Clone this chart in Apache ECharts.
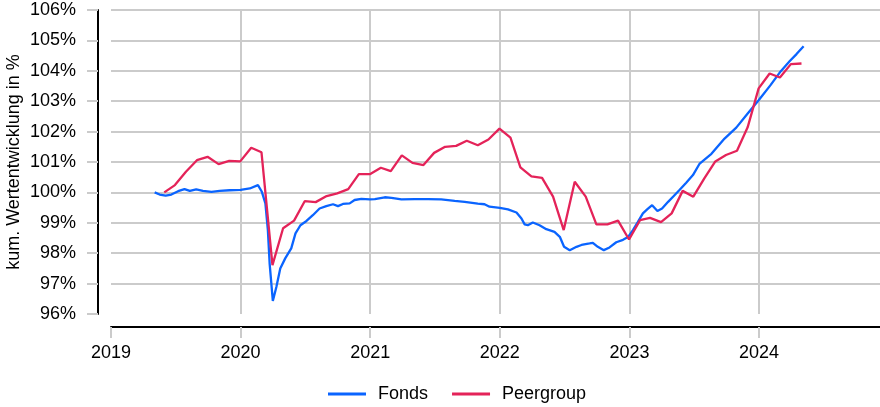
<!DOCTYPE html>
<html><head><meta charset="utf-8">
<script src="https://cdn.jsdelivr.net/npm/echarts@6/dist/echarts.min.js"></script>
<style>html,body{margin:0;padding:0;background:#fff}#c{width:880px;height:407px}</style>
</head><body><div id="c"></div>
<script>
// ---- data ----
const seriesNames = ['Fonds', 'Peergroup'];
const yAxisTitle = 'kum. Wertentwicklung in %';

const peerDates = [
  '2019-05-31','2019-06-30','2019-07-31','2019-08-31','2019-09-30','2019-10-31','2019-11-30','2019-12-31',
  '2020-01-31','2020-02-29','2020-03-31','2020-04-30','2020-05-31','2020-06-30','2020-07-31','2020-08-31','2020-09-30','2020-10-31','2020-11-30','2020-12-31',
  '2021-01-31','2021-02-28','2021-03-31','2021-04-30','2021-05-31','2021-06-30','2021-07-31','2021-08-31','2021-09-30','2021-10-31','2021-11-30','2021-12-31',
  '2022-01-31','2022-02-28','2022-03-31','2022-04-30','2022-05-31','2022-06-30','2022-07-31','2022-08-31','2022-09-30','2022-10-31','2022-11-30','2022-12-31',
  '2023-01-31','2023-02-28','2023-03-31','2023-04-30','2023-05-31','2023-06-30','2023-07-31','2023-08-31','2023-09-30','2023-10-31','2023-11-30','2023-12-31',
  '2024-01-31','2024-02-29','2024-03-31','2024-04-30'
];
const peerValues = [
  100.00,100.24,100.68,101.06,101.17,100.93,101.04,101.02,
  101.47,101.32,97.61,98.82,99.07,99.71,99.68,99.88,99.97,100.11,100.60,100.60,
  100.81,100.70,101.22,100.97,100.90,101.30,101.50,101.53,101.70,101.55,101.74,102.10,
  101.80,100.82,100.53,100.48,99.86,98.76,100.35,99.86,98.95,98.95,99.07,98.45,
  99.09,99.16,99.02,99.31,100.05,99.86,100.46,101.02,101.23,101.37,102.14,103.42,
  103.91,103.78,104.22,104.24
];

const fondsDates = [
  '2019-05-04','2019-05-18','2019-06-04','2019-06-20','2019-07-09','2019-07-27','2019-08-11','2019-08-29','2019-09-17','2019-10-11','2019-11-03','2019-12-01',
  '2020-01-01','2020-01-27','2020-02-19','2020-03-01','2020-03-11','2020-03-18','2020-03-23','2020-04-01','2020-04-11','2020-04-22','2020-05-06','2020-05-23',
  '2020-06-04','2020-06-18','2020-07-05','2020-07-23','2020-08-11','2020-08-30','2020-09-18','2020-10-02','2020-10-16','2020-11-04','2020-11-18','2020-12-07','2020-12-31',
  '2021-01-14','2021-02-11','2021-03-02','2021-03-30','2021-05-06','2021-06-13','2021-07-20','2021-08-27','2021-09-24','2021-10-31','2021-11-19','2021-12-03',
  '2022-01-01','2022-01-24','2022-02-17','2022-03-03','2022-03-12','2022-03-21','2022-04-04','2022-04-23','2022-05-12','2022-06-04','2022-06-19','2022-07-01',
  '2022-07-17','2022-08-05','2022-08-19','2022-09-11','2022-09-20','2022-10-04','2022-10-21','2022-11-06','2022-11-25','2022-12-14','2022-12-28',
  '2023-01-11','2023-01-25','2023-02-08','2023-02-20','2023-03-06','2023-03-21','2023-04-03','2023-04-20','2023-05-06','2023-05-22','2023-06-10','2023-06-29',
  '2023-07-18','2023-08-20','2023-09-26','2023-10-29','2023-11-29','2023-12-31','2024-02-02','2024-03-02','2024-03-28','2024-04-16','2024-05-06'
];
const fondsValues = [
  100.00,99.93,99.89,99.93,100.04,100.11,100.05,100.10,100.05,100.02,100.05,100.07,
  100.08,100.13,100.24,100.02,99.64,98.76,97.66,96.43,96.89,97.50,97.83,98.16,
  98.65,98.92,99.06,99.25,99.47,99.55,99.61,99.55,99.62,99.64,99.75,99.79,99.77,
  99.78,99.84,99.82,99.77,99.78,99.78,99.77,99.72,99.69,99.63,99.61,99.53,
  99.49,99.44,99.34,99.14,98.95,98.92,99.01,98.92,98.79,98.70,98.54,98.21,
  98.10,98.21,98.27,98.32,98.34,98.21,98.10,98.19,98.36,98.44,98.53,
  98.76,99.03,99.31,99.44,99.58,99.39,99.47,99.69,99.88,100.08,100.32,100.57,
  100.95,101.27,101.77,102.13,102.58,103.03,103.52,103.98,104.32,104.55,104.81
];

const xMin = 2019, xMax = 2025, xStep = 1;
const yMin = 96, yMax = 106, yStep = 1;

// ---- helpers ----
function toYear(s) {
  const p = s.split('-').map(Number);
  const a = Date.UTC(p[0], 0, 1), b = Date.UTC(p[0] + 1, 0, 1);
  return p[0] + (Date.UTC(p[0], p[1] - 1, p[2]) - a) / (b - a);
}
const fondsData = fondsDates.map((d, i) => [toYear(d), fondsValues[i]]);
const peerData = peerDates.map((d, i) => [toYear(d), peerValues[i]]);

const FONT = 'Liberation Sans, Arial, sans-serif';
const GRID = '#cbcbcb';

const chart = echarts.init(document.getElementById('c'), null, {renderer: 'canvas'});
chart.setOption({
  animation: false,
  backgroundColor: '#fff',
  textStyle: {fontFamily: FONT},
  grid: {left: 111, right: -8.6, top: 10, bottom: 93, containLabel: false, outerBoundsMode: 'none'},
  legend: {
    data: seriesNames,
    left: 323, top: 380,
    icon: 'rect', itemWidth: 38, itemHeight: 3, itemGap: 24,
    textStyle: {fontSize: 18, color: '#000', fontFamily: FONT, padding: [0, 0, 0, 7]}
  },
  xAxis: {
    type: 'value', min: xMin, max: xMax, interval: xStep,
    offset: 13,
    axisLine: {show: true, lineStyle: {color: '#000', width: 2}},
    axisTick: {show: true, length: 11, lineStyle: {color: GRID, width: 2}},
    axisLabel: {fontSize: 18, color: '#000', margin: 17, fontFamily: FONT,
      formatter: v => (v < xMax ? String(v) : '')},
    splitLine: {show: true, showMinLine: false, showMaxLine: false, lineStyle: {color: GRID, width: 2}}
  },
  yAxis: {
    type: 'value', min: yMin, max: yMax, interval: yStep,
    offset: 13,
    name: yAxisTitle, nameLocation: 'middle', nameGap: 75, nameMoveOverlap: false,
    nameTextStyle: {fontSize: 18, color: '#000', fontFamily: FONT},
    axisLine: {show: true, lineStyle: {color: '#000', width: 2}},
    axisTick: {show: true, length: 11, lineStyle: {color: GRID, width: 2}},
    axisLabel: {fontSize: 18, color: '#000', margin: 22, fontFamily: FONT, formatter: '{value}%',
      padding: [5, 0, 0, 0]},
    splitLine: {show: true, showMinLine: false, lineStyle: {color: GRID, width: 2}}
  },
  series: [
    {name: seriesNames[0], type: 'line', data: fondsData, showSymbol: false, symbol: 'none',
      lineStyle: {color: '#0a64ff', width: 2.3}, itemStyle: {color: '#0a64ff'}},
    {name: seriesNames[1], type: 'line', data: peerData, showSymbol: false, symbol: 'none',
      lineStyle: {color: '#e42359', width: 2.3}, itemStyle: {color: '#e42359'}}
  ]
});
</script></body></html>
